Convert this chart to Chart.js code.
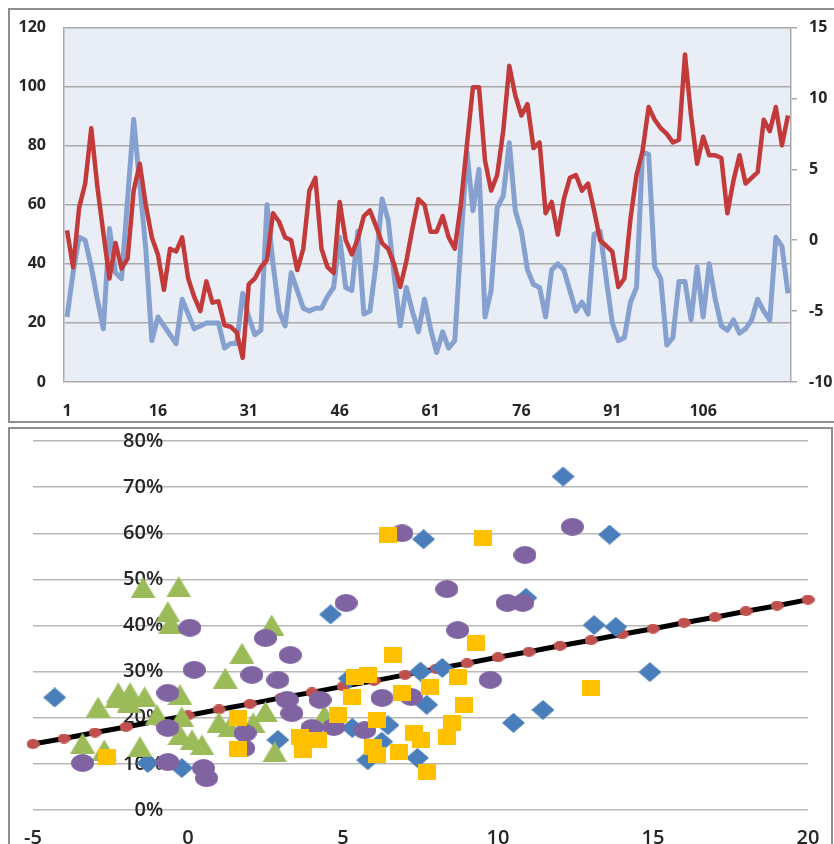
<!DOCTYPE html>
<html>
<head>
<meta charset="utf-8">
<script src="https://cdn.jsdelivr.net/npm/chart.js@4.4.1/dist/chart.umd.min.js"></script>
<style>
    html, body { margin: 0; padding: 0; background: #fff; overflow: hidden; }
    #page { position: relative; width: 834px; height: 844px; overflow: hidden; }
    .frame { position: absolute; box-sizing: border-box; border: 2px solid #8e8e8e; }
    #top-frame { left: 8px; top: 8px; width: 840px; height: 415px; }
    #bottom-frame { left: 8px; top: 427px; width: 825px; height: 430px; }
    canvas { position: absolute; left: 0; }
    #line-chart { top: 0; }
    #scatter-chart { top: 424px; }
</style>
</head>
<body>
<div id="page">
    <div class="frame" id="top-frame"></div>
    <div class="frame" id="bottom-frame"></div>
    <canvas id="line-chart" width="834" height="424"></canvas>
    <canvas id="scatter-chart" width="834" height="420"></canvas>
</div>
<script>
// ---- top chart data ----
const periods = Array.from({ length: 120 }, (_, i) => String(i + 1));

// left axis (0 - 120)
const blueValues = [
    22, 37, 49, 48, 39, 28, 18, 52, 37, 35,
    62, 89, 67, 45, 14, 22, 19, 16, 13, 28,
    23, 18, 19, 20, 20, 20, 11.5, 13, 13, 30,
    22, 16, 17.5, 60, 40, 24, 19, 37, 31, 25,
    24, 25, 25, 29, 32, 49, 32, 31, 51, 23,
    24, 40, 62, 55, 36, 19, 32, 24, 17, 28,
    18, 10, 17, 11.5, 14, 47, 78, 58, 72, 22,
    31, 59, 63, 81, 58, 51, 38, 33, 32, 22,
    38, 40, 38, 31, 24, 27, 23, 50, 51, 35,
    20, 14, 15, 27, 32, 78, 77, 39, 35, 12.5,
    15, 34, 34, 21, 39, 22, 40, 28, 19, 17.5,
    21, 16.5, 18, 21, 28, 24, 21, 49, 46, 30,
];

// right axis (-10 - 15)
const redValues = [
    0.7, -1.9, 2.3, 4.0, 7.9, 3.8, 0.5, -2.7, -0.2, -2.0,
    -1.3, 3.5, 5.4, 2.5, 0.2, -1.0, -3.5, -0.6, -0.8, 0.2,
    -2.7, -4.0, -5.0, -2.9, -4.4, -4.3, -6.0, -6.1, -6.5, -8.3,
    -3.1, -2.7, -1.9, -1.4, 1.9, 1.3, 0.2, 0.0, -2.1, -0.6,
    3.5, 4.4, -0.6, -1.9, -2.3, 2.7, 0.0, -1.0, 0.1, 1.7,
    2.1, 1.0, -0.2, -0.6, -1.7, -3.3, -1.5, 0.8, 2.9, 2.5,
    0.6, 0.6, 1.7, 0.2, -0.6, 2.5, 6.7, 10.8, 10.8, 5.6,
    3.5, 4.6, 7.7, 12.3, 10.2, 8.8, 9.6, 6.5, 6.9, 1.9,
    2.7, 0.4, 2.9, 4.4, 4.6, 3.5, 4.0, 2.1, 0.0, -0.4,
    -0.8, -3.3, -2.7, 1.5, 4.6, 6.3, 9.4, 8.5, 7.9, 7.5,
    6.9, 7.1, 13.1, 8.8, 5.4, 7.3, 6.0, 6.0, 5.8, 1.9,
    4.2, 6.0, 4.0, 4.4, 4.8, 8.5, 7.7, 9.4, 6.7, 8.8,
];

// ---- bottom chart data (y in %) ----
const diamondX = [-4.3, -1.3, -0.2, 2.9, 4.6, 5.2, 5.3, 5.8, 6.45, 6.25, 7.4, 7.5, 7.7, 7.6, 8.2, 10.5, 10.9, 11.45, 12.1, 13.6, 13.1, 13.8, 14.9];
const diamondY = [24.4, 10.2, 9.1, 15.2, 42.4, 28.5, 17.8, 10.8, 18.4, 14.8, 11.3, 30, 22.8, 58.7, 30.8, 18.9, 46, 21.7, 72.3, 59.7, 40.1, 39.7, 29.9];

const squareX = [-2.6, 1.6, 1.6, 3.6, 3.7, 4.2, 4.85, 5.3, 5.4, 5.8, 6.1, 5.97, 6.1, 6.45, 6.6, 6.8, 6.9, 7.3, 7.5, 7.8, 7.7, 8.35, 8.5, 8.7, 8.9, 9.3, 9.5, 13.0];
const squareY = [11.5, 20, 13.3, 15.8, 13, 15.2, 20.6, 24.5, 28.9, 29.3, 19.5, 13.7, 12, 59.7, 33.6, 12.6, 25.4, 16.7, 15.2, 26.7, 8.2, 15.8, 18.9, 28.9, 22.8, 36.2, 59, 26.5];

const circleX = [-3.4, -0.65, -0.65, -0.65, 0.06, 0.2, 0.5, 0.6, 1.84, 1.8, 2.06, 2.5, 2.9, 3.3, 3.2, 3.35, 4.0, 4.26, 4.7, 5.1, 5.7, 6.26, 6.9, 7.2, 8.35, 8.7, 9.75, 10.3, 10.87, 10.8, 12.4];
const circleY = [10.2, 25.4, 17.8, 10.4, 39.5, 30.4, 9.1, 6.9, 16.7, 13.4, 29.3, 37.3, 28.2, 33.6, 23.9, 21, 17.8, 23.9, 18, 44.9, 17.3, 24.3, 60, 24.5, 47.9, 39, 28.2, 44.9, 55.3, 44.9, 61.4];

const triangleX = [-3.4, -2.9, -2.7, -2.25, -2.3, -1.87, -1.9, -1.4, -1.45, -1.55, -1.0, -0.65, -0.55, -0.3, -0.26, -0.2, -0.26, 0.13, 0.45, 1.2, 1.0, 1.35, 1.74, 2.1, 2.5, 2.7, 2.8, 4.4];
const triangleY = [14.5, 22.3, 13, 25.4, 24.3, 25.4, 23.4, 24.5, 48.2, 13.7, 20.6, 43, 40.5, 48.4, 25, 20.2, 16.3, 15.2, 14.1, 28.6, 19, 18, 34, 18.9, 21.3, 40.1, 12.6, 20.5];

const trendX = [-5, -4, -3, -2, -1, 0, 1, 2, 3, 4, 5, 6, 7, 8, 9, 10, 11, 12, 13, 14, 15, 16, 17, 18, 19, 20];
const trendY = [14.3, 15.5, 16.8, 18.0, 19.3, 20.5, 21.8, 23.0, 24.3, 25.5, 26.8, 28.0, 29.3, 30.6, 31.8, 33.1, 34.3, 35.6, 36.8, 38.1, 39.3, 40.6, 41.8, 43.1, 44.3, 45.6];

const BLUE_LINE = "#86A1CF";
const RED_LINE = "#C23A3A";
const GRID_TOP = "#A9A9A9";
const GRID_BOTTOM = "#B8B8B8";
const TEXT = "#262626";

function toPoints(xs, ys) {
    return xs.map((x, i) => ({ x: x, y: ys[i] }));
}

// Excel-like marker shapes drawn on small canvases
function makeMarker(shape, color, w, h) {
    const c = document.createElement("canvas");
    c.width = w;
    c.height = h;
    const g = c.getContext("2d");
    g.fillStyle = color;
    g.beginPath();
    if (shape === "diamond") {
        g.moveTo(w / 2, 0); g.lineTo(w, h / 2); g.lineTo(w / 2, h); g.lineTo(0, h / 2);
    } else if (shape === "triangle") {
        g.moveTo(w / 2, 0); g.lineTo(w, h); g.lineTo(0, h);
    } else if (shape === "ellipse") {
        g.ellipse(w / 2, h / 2, w / 2, h / 2, 0, 0, Math.PI * 2);
    } else {
        g.rect(0, 0, w, h);
    }
    g.closePath();
    g.fill();
    return c;
}

const plotBackground = {
    id: "plotBackground",
    beforeDraw(chart, args, opts) {
        const { ctx, chartArea: a } = chart;
        ctx.save();
        ctx.fillStyle = opts.color;
        ctx.fillRect(a.left, a.top, a.right - a.left, a.bottom - a.top);
        ctx.restore();
    },
};

const topFont = { family: "Open Sans", size: 16, weight: "700" };
const bottomFont = { family: "Open Sans", size: 20, weight: "600" };

new Chart(document.getElementById("line-chart"), {
    type: "line",
    data: {
        labels: periods,
        datasets: [
            {
                label: "Series 1",
                data: blueValues,
                yAxisID: "y",
                borderColor: BLUE_LINE,
                borderWidth: 5,
                pointRadius: 0,
                tension: 0,
                borderJoinStyle: "round",
                order: 2,
            },
            {
                label: "Series 2",
                data: redValues,
                yAxisID: "y2",
                borderColor: RED_LINE,
                borderWidth: 4.5,
                pointRadius: 0,
                tension: 0,
                borderJoinStyle: "round",
                order: 1,
            },
        ],
    },
    options: {
        responsive: false,
        animation: false,
        layout: { padding: { top: 27, left: 0, right: 0, bottom: 0 } },
        plugins: {
            legend: { display: false },
            tooltip: { enabled: false },
            plotBackground: { color: "#E9EDF5" },
        },
        scales: {
            x: {
                offset: true,
                grid: { display: false },
                border: { display: false },
                ticks: {
                    autoSkip: false,
                    maxRotation: 0,
                    padding: 12,
                    font: topFont,
                    color: TEXT,
                    callback: (value, index) => (index % 15 === 0 ? periods[index] : ""),
                },
                afterFit: (scale) => { scale.height = 42; },
            },
            y: {
                position: "left",
                min: 0,
                max: 120,
                ticks: { stepSize: 20, padding: 18, font: topFont, color: TEXT },
                grid: { color: GRID_TOP, lineWidth: 1.5, drawTicks: false },
                border: { display: true, color: GRID_TOP, width: 1.5 },
                afterFit: (scale) => { scale.width = 64; },
            },
            y2: {
                position: "right",
                min: -10,
                max: 15,
                ticks: { stepSize: 5, padding: 12, font: topFont, color: TEXT },
                grid: { drawOnChartArea: false, drawTicks: true, tickLength: 6, color: GRID_TOP, lineWidth: 1.5 },
                border: { display: true, color: GRID_TOP, width: 1.5 },
                afterFit: (scale) => { scale.width = 43; },
            },
        },
    },
    plugins: [plotBackground],
});

const markers = {
    diamond: makeMarker("diamond", "#4A7EBB", 23, 20),
    square: makeMarker("square", "#FFC000", 18, 16),
    circle: makeMarker("ellipse", "#8064A2", 23, 18),
    triangle: makeMarker("triangle", "#9BBB59", 25, 21),
    dot: makeMarker("ellipse", "#C0504D", 13, 10),
};

new Chart(document.getElementById("scatter-chart"), {
    type: "scatter",
    data: {
        datasets: [
            {
                label: "Trend",
                data: toPoints(trendX, trendY),
                showLine: true,
                borderColor: "#000000",
                borderWidth: 5,
                pointStyle: markers.dot,
                pointRadius: 6,
                clip: false,
                order: 5,
            },
            { label: "Diamonds", data: toPoints(diamondX, diamondY), pointStyle: markers.diamond, pointRadius: 10, order: 4 },
            { label: "Triangles", data: toPoints(triangleX, triangleY), pointStyle: markers.triangle, pointRadius: 10, order: 3 },
            { label: "Circles", data: toPoints(circleX, circleY), pointStyle: markers.circle, pointRadius: 10, order: 2 },
            { label: "Squares", data: toPoints(squareX, squareY), pointStyle: markers.square, pointRadius: 10, order: 1 },
        ],
    },
    options: {
        responsive: false,
        animation: false,
        layout: { padding: { left: 33, right: 26, top: 17, bottom: 0 } },
        plugins: {
            legend: { display: false },
            tooltip: { enabled: false },
        },
        scales: {
            x: {
                type: "linear",
                min: -5,
                max: 20,
                ticks: { stepSize: 5, padding: 8, font: bottomFont, color: TEXT },
                grid: { display: false },
                border: { display: false },
                afterFit: (scale) => { scale.height = 34; },
            },
            y: {
                min: 0,
                max: 80,
                position: { x: -0.8 },
                ticks: { stepSize: 10, padding: 0, font: bottomFont, color: TEXT, callback: (v) => v + "%" },
                grid: { color: GRID_BOTTOM, lineWidth: 1.5, drawTicks: false },
                border: { display: false },
            },
        },
    },
});
</script>
</body>
</html>
